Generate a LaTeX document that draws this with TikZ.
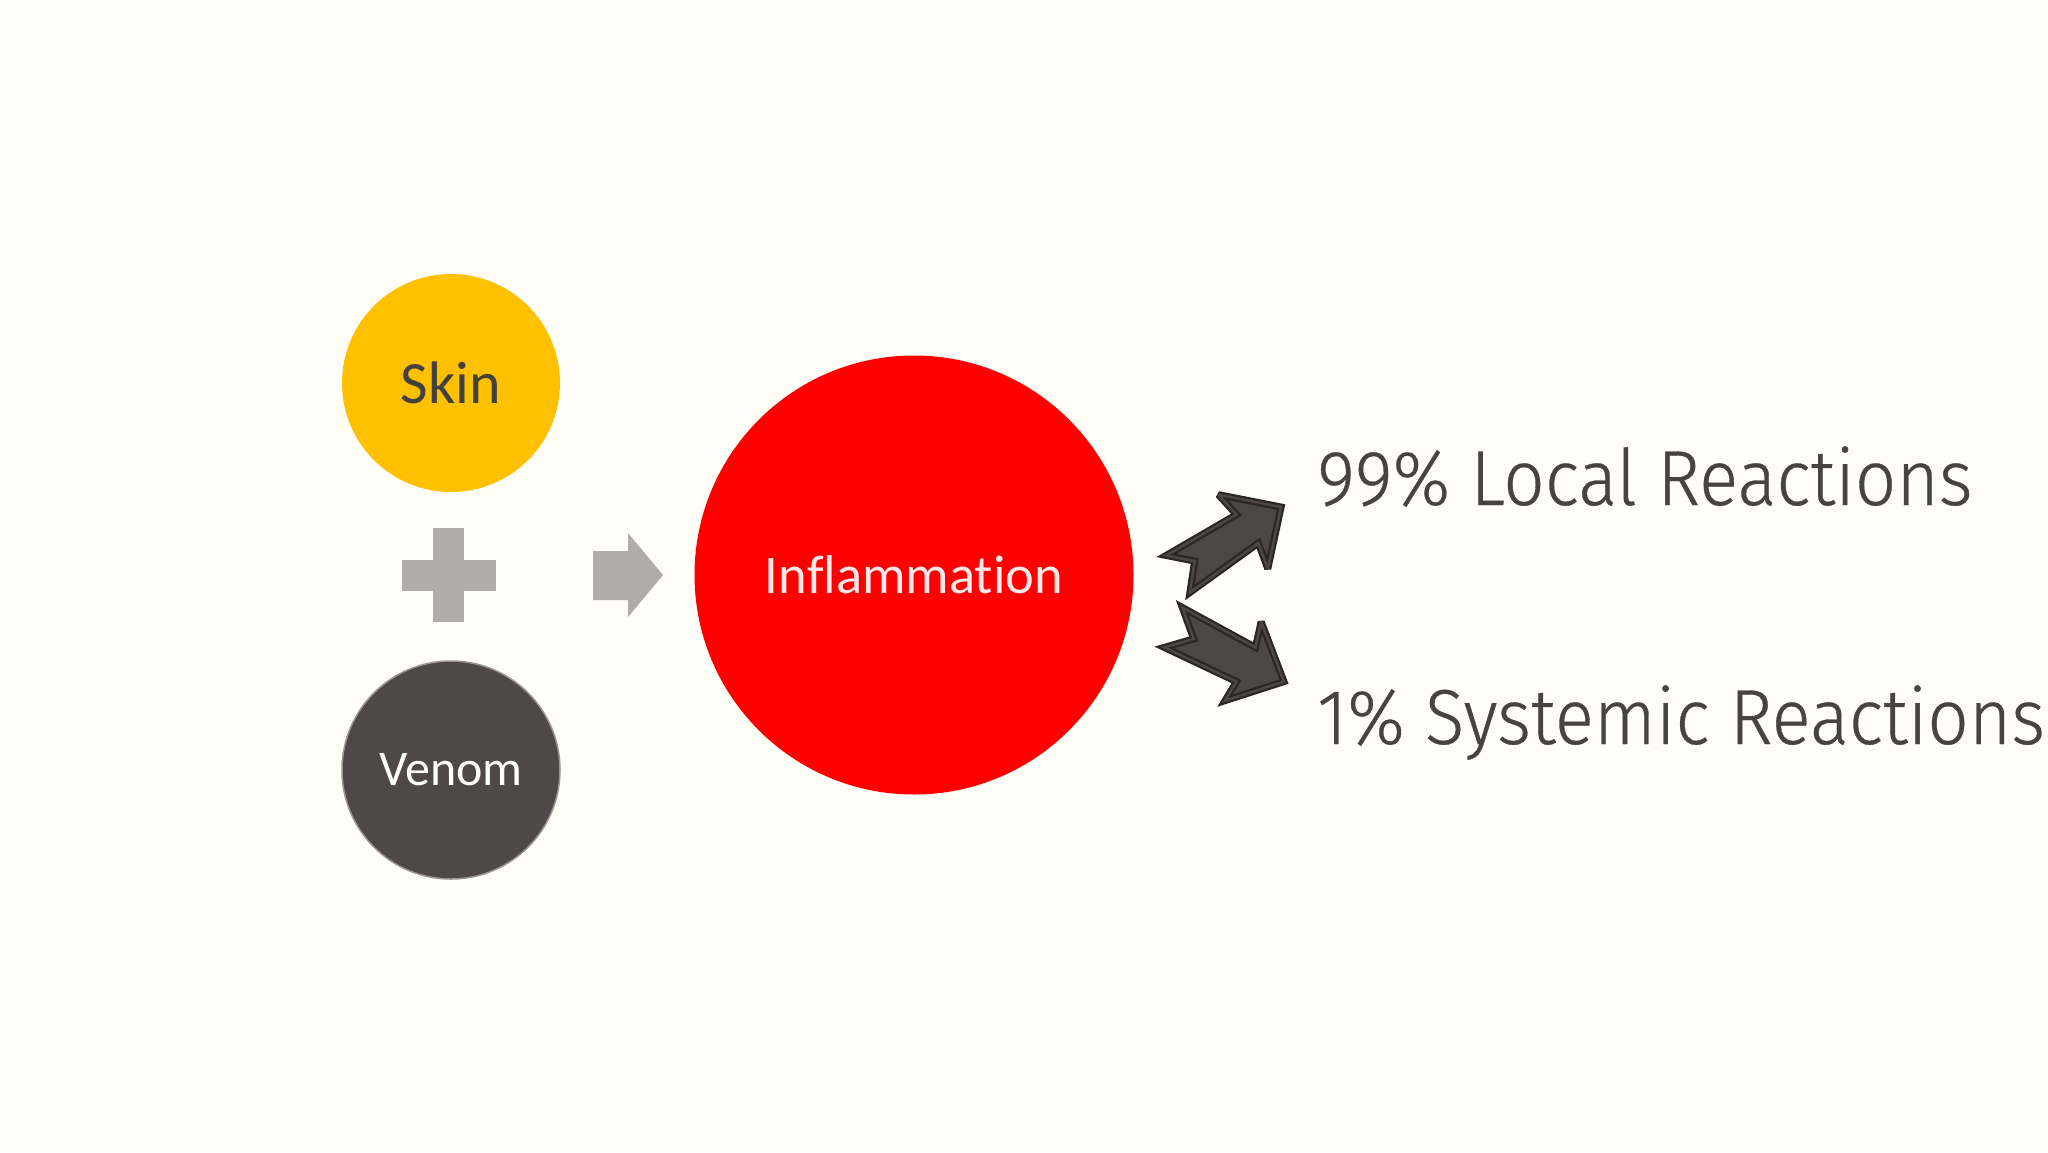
\documentclass[tikz,border=0pt]{standalone}
\usepackage{fontspec}
\setmainfont{Carlito}[Ligatures=NoCommon]
\newfontfamily\plexfont{Fira Sans}[FakeStretch=0.932, UprightFont=* Light, Ligatures=NoCommon, FakeBold=0.4]
\definecolor{bgcol}{HTML}{FEFDF6}
\definecolor{skincol}{HTML}{FFC000}
\definecolor{skintext}{HTML}{44403C}
\definecolor{venomcol}{HTML}{504846}
\definecolor{venomborder}{HTML}{9A9491}
\definecolor{inflcol}{HTML}{FF0000}
\definecolor{infltext}{HTML}{FCE8E8}
\definecolor{graysym}{HTML}{AFACAA}
\definecolor{darkfill}{HTML}{4E4643}
\definecolor{darkline}{HTML}{2A2624}
\definecolor{righttext}{HTML}{47433D}
\tikzset{
  bubble/.style={circle, inner sep=0pt, minimum size=218pt},
  graysymbol/.style={fill=graysym},
  darkarrow/.style={draw=darkline, line width=2.2pt, double=darkfill, double distance=2.6pt, fill=darkfill, line join=miter, miter limit=3},
  reaction/.style={anchor=base west, inner sep=0pt, text=righttext, font=\plexfont\fontsize{78}{90}\selectfont}
}
\begin{document}
\begin{tikzpicture}[x=1pt,y=-1pt]
\fill[bgcol] (0,0) rectangle (2048,1152);
\useasboundingbox (0,0) rectangle (2048,1152);

\node[bubble, fill=skincol, text=skintext, font=\fontsize{60}{66}\selectfont] (skin) at (451,383) {Skin};
\node[bubble, fill=venomcol, draw=venomborder, line width=1.5pt, text=white, font=\fontsize{50}{58}\selectfont] (venom) at (451,770) {Venom};
\node[circle, inner sep=0pt, minimum size=439pt, fill=inflcol, text=infltext, font=\fontsize{54.5}{60}\selectfont] (infl) at (914,575) {Inflammation};

% plus sign
\coordinate (plus) at (449,575);
\fill[graysymbol] (433,528) rectangle (464,622);
\fill[graysymbol] (402,560) rectangle (496,591);

% gray arrow
\coordinate (garrow) at (628,575);
\fill[graysymbol] (593,551) -- (628,551) -- (628,533) -- (663,575) -- (628,617) -- (628,600) -- (593,600) -- cycle;

% dark notched arrows
\begin{scope}[shift={(1226,545)}, scale=0.95, shift={(-1226,-545)}]
\draw[darkarrow] (1163,556) -- (1237,513) -- (1218,492) -- (1284,505) -- (1270,570) -- (1260,543) -- (1188,595) -- (1193,562) -- cycle;
\end{scope}
\begin{scope}[shift={(1226,655)}, scale=0.95, shift={(-1226,-655)}]
\draw[darkarrow] (1180,605) -- (1257,647) -- (1263,620) -- (1287,683) -- (1225,703) -- (1237,683) -- (1161,647) -- (1192,638) -- cycle;
\end{scope}

\node[reaction] (local) at (1317,505) {99\% Local Reactions};
\node[reaction] (systemic) at (1317,744) {1\% Systemic Reactions};
\end{tikzpicture}
\end{document}
